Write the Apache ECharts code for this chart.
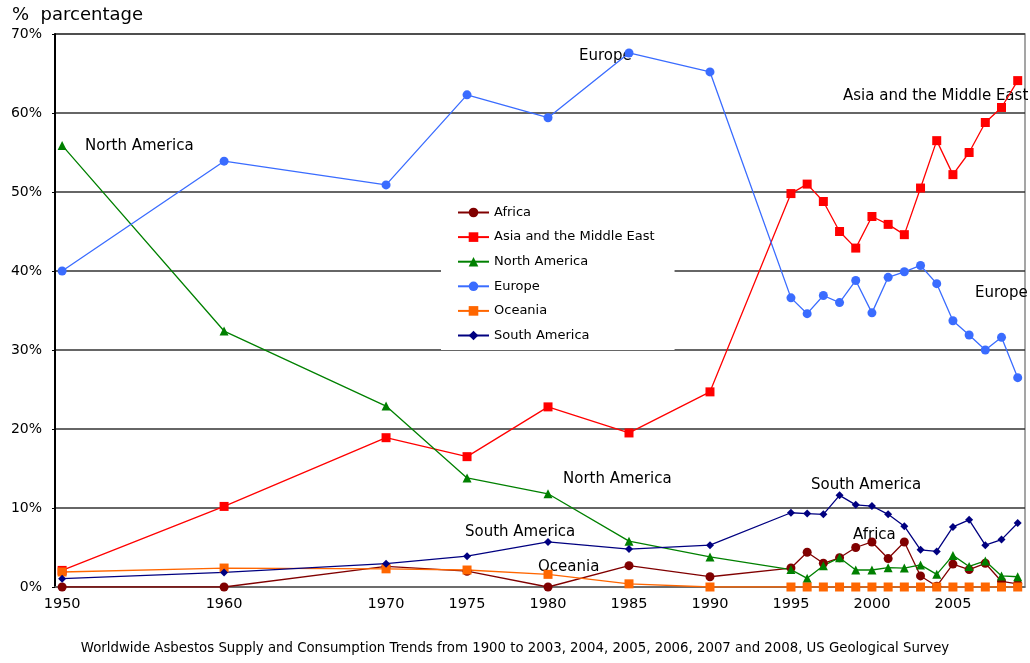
<!DOCTYPE html>
<html><head><meta charset="utf-8">
<script src="https://cdn.jsdelivr.net/npm/echarts@6/dist/echarts.min.js"></script>
<style>html,body{margin:0;padding:0;background:#fff}#c{width:1030px;height:663px}</style>
</head><body><div id="c"></div>
<script>
const years = [1950,1960,1970,1975,1980,1985,1990,1995,1996,1997,1998,1999,2000,2001,2002,2003,2004,2005,2006,2007,2008,2009];
const africa = [0,0,2.6,2.0,0,2.7,1.3,2.4,4.4,3.0,3.7,5.0,5.7,3.6,5.7,1.4,0.1,2.9,2.2,3.0,0.7,0.4];
const asia = [2.1,10.2,18.9,16.5,22.8,19.5,24.7,49.8,51.0,48.8,45.0,42.9,46.9,45.9,44.6,50.5,56.5,52.2,55.0,58.8,60.7,64.1];
const northAmerica = [55.9,32.4,22.9,13.8,11.8,5.8,3.8,2.2,1.1,2.7,3.7,2.15,2.15,2.45,2.4,2.8,1.6,4.0,2.6,3.3,1.4,1.3];
const europe = [40.0,53.9,50.9,62.3,59.4,67.6,65.2,36.6,34.6,36.9,36.0,38.8,34.7,39.2,39.9,40.7,38.4,33.7,31.9,30.0,31.6,26.5];
const oceania = [1.9,2.4,2.3,2.15,1.6,0.4,0,0,0,0,0,0,0,0,0,0,0,0,0,0,0,0];
const southAmerica = [1.05,1.85,2.95,3.9,5.7,4.8,5.3,9.4,9.3,9.2,11.6,10.4,10.25,9.2,7.7,4.7,4.5,7.6,8.5,5.3,6.0,8.1];
const xTickLabels = [1950,1960,1970,1975,1980,1985,1990,1995,2000,2005];
const seriesNames = ['Africa','Asia and the Middle East','North America','Europe','Oceania','South America'];

const FONT = '"DejaVu Sans", sans-serif';
const pair = arr => years.map((y,i)=>[y,arr[i]]);
const mk = (name, data, color, symbol, size) => ({
  name, type:'line', data: pair(data), symbol, symbolSize:size,
  lineStyle:{color, width:1.3}, itemStyle:{color}, animation:false
});

const chart = echarts.init(document.getElementById('c'));
const annot = (text, left, top) => ({type:'text', left, top, style:{text, font:'15px '+FONT, fill:'#000'}});
chart.setOption({
  backgroundColor:'#fff',
  textStyle:{fontFamily:FONT},
  grid:{left:55, right:5, top:34, bottom:76, show:true, borderColor:'#888', borderWidth:1.5},
  xAxis:{type:'value', min:1949.56, max:2009.45,
    axisLine:{show:true, onZero:false, lineStyle:{color:'#777', width:1.5}},
    axisTick:{show:false},
    splitLine:{show:false},
    axisLabel:{customValues:xTickLabels, formatter: v => String(v), color:'#000', fontSize:14.5, margin:10, fontFamily:FONT}
  },
  yAxis:{type:'value', min:0, max:70, interval:10,
    axisLine:{show:true, lineStyle:{color:'#000', width:2}},
    axisTick:{show:true, length:3, lineStyle:{color:'#000'}},
    splitLine:{show:true, lineStyle:{color:'#333', width:1.5}},
    axisLabel:{formatter:'{value}%', color:'#000', fontSize:14, margin:13, fontFamily:FONT}
  },
  legend:{orient:'vertical', left:441, top:198, padding:[8,20,8,16],
    backgroundColor:'#fff', itemWidth:31, itemHeight:12, itemGap:11.6,
    textStyle:{fontSize:13, color:'#000', fontFamily:FONT}, data:seriesNames},
  series:[
    mk(seriesNames[0], africa, '#800000', 'circle', 9),
    mk(seriesNames[1], asia, '#ff0000', 'rect', 9),
    mk(seriesNames[2], northAmerica, '#008000', 'triangle', 9),
    mk(seriesNames[3], europe, '#3a6cff', 'circle', 9),
    mk(seriesNames[4], oceania, '#ff6600', 'rect', 9),
    mk(seriesNames[5], southAmerica, '#000080', 'diamond', 8)
  ],
  graphic:[
    {type:'text', left:12, top:6, style:{text:'%  parcentage', font:'18px '+FONT, fill:'#000'}},
    annot('North America', 85, 139),
    annot('Europe', 579, 49),
    annot('Asia and the Middle East', 843, 89),
    annot('Europe', 975, 286),
    annot('North America', 563, 472),
    annot('South America', 465, 525),
    annot('Oceania', 538, 560),
    annot('South America', 811, 478),
    annot('Africa', 853, 528),
    {type:'text', left:'center', top:642, style:{text:'Worldwide Asbestos Supply and Consumption Trends from 1900 to 2003, 2004, 2005, 2006, 2007 and 2008, US Geological Survey', font:'13.3px '+FONT, fill:'#000'}}
  ]
});
</script></body></html>
